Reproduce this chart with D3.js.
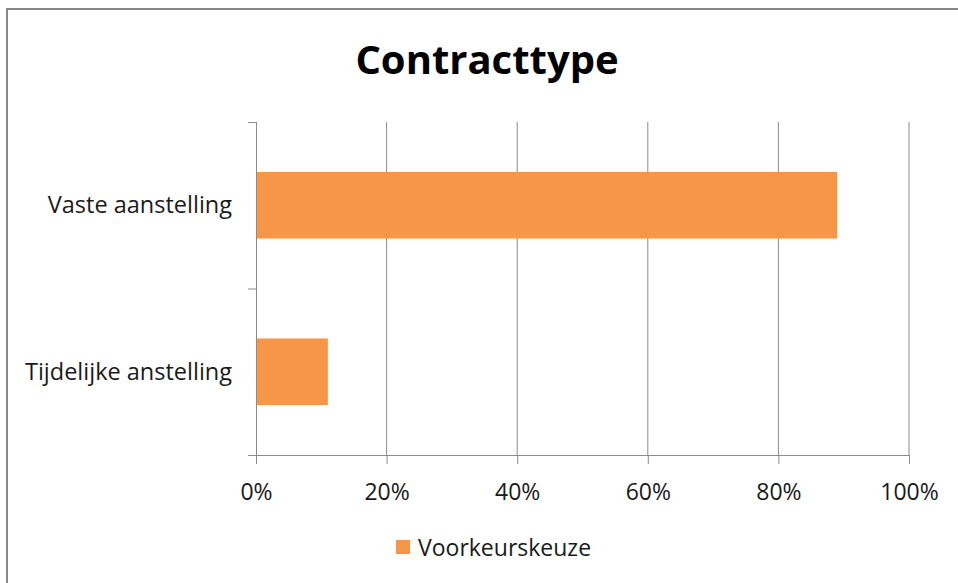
<!DOCTYPE html>
<html>
<head>
<meta charset="utf-8">
<script src="https://cdn.jsdelivr.net/npm/d3@7"></script>
<style>
  body { margin: 0; background: #fff; }
  svg { display: block; font-family: "Open Sans", Lato, sans-serif; }
</style>
</head>
<body>
<svg width="958" height="583"></svg>
<script>
var categories = ["Vaste aanstelling", "Tijdelijke anstelling"];
var values = [0.89, 0.11];
var tickValues = [0, 0.2, 0.4, 0.6, 0.8, 1.0];
var seriesName = "Voorkeurskeuze";
var barColor = "#F79646";
var gridColor = "#8c8c8c";
var textColor = "#1a1a1a";

var svg = d3.select("svg");

// chart border (extends past the picture at right and bottom)
svg.append("rect")
  .attr("x", 7).attr("y", 9)
  .attr("width", 1000).attr("height", 1000)
  .attr("fill", "none")
  .attr("stroke", "#888")
  .attr("stroke-width", 2);

var x = d3.scaleLinear().domain([0, 1]).range([256, 909]);
var y = d3.scaleBand().domain(categories).range([122, 455])
  .paddingInner(0.6).paddingOuter(0.3);

// title
svg.append("text")
  .attr("x", 487).attr("y", 74)
  .attr("text-anchor", "middle")
  .attr("font-size", 40).attr("font-weight", "bold")
  .attr("fill", "#000")
  .text("Contracttype");

// vertical gridlines
svg.selectAll("line.grid").data(tickValues.slice(1)).enter()
  .append("line")
  .attr("class", "grid")
  .attr("x1", function(d){return x(d)}).attr("x2", function(d){return x(d)})
  .attr("y1", 122).attr("y2", 455)
  .attr("stroke", gridColor).attr("stroke-width", 1);

// bars
svg.selectAll("rect.bar").data(values).enter()
  .append("rect")
  .attr("class", "bar")
  .attr("x", x(0))
  .attr("y", function(d, i){return y(categories[i])})
  .attr("width", function(d){return x(d) - x(0)})
  .attr("height", y.bandwidth())
  .attr("fill", barColor);

// x axis
var xAxis = d3.axisBottom(x)
  .tickValues(tickValues)
  .tickFormat(d3.format(".0%"))
  .tickSize(9)
  .tickPadding(0);
var gx = svg.append("g").attr("transform", "translate(0,455)").call(xAxis);
gx.select(".domain").attr("stroke", gridColor).attr("d", "M248,0.5H909");
gx.selectAll(".tick line").attr("stroke", gridColor);
gx.selectAll(".tick text")
  .attr("y", 45).attr("dy", null)
  .attr("font-size", 23).attr("fill", textColor)
  .attr("font-family", "'Open Sans', Lato, sans-serif");

// y axis with boundary ticks
var gy = svg.append("g");
gy.append("line")
  .attr("x1", 256.5).attr("x2", 256.5)
  .attr("y1", 122).attr("y2", 456)
  .attr("stroke", gridColor);
var bounds = [y.range()[0], (y.range()[0] + y.range()[1]) / 2, y.range()[1]];
gy.selectAll("line.b").data(bounds).enter()
  .append("line")
  .attr("class", "b")
  .attr("x1", 248).attr("x2", 256)
  .attr("y1", function(d){return d + 0.5}).attr("y2", function(d){return d + 0.5})
  .attr("stroke", gridColor);
gy.selectAll("text").data(categories).enter()
  .append("text")
  .attr("x", 232)
  .attr("y", function(d){return y(d) + y.bandwidth() / 2 + 8})
  .attr("text-anchor", "end")
  .attr("font-size", 23.5)
  .attr("fill", textColor)
  .text(function(d){return d});

// legend
var lg = svg.append("g");
lg.append("rect")
  .attr("x", 396).attr("y", 540)
  .attr("width", 14).attr("height", 14)
  .attr("fill", barColor);
lg.append("text")
  .attr("x", 418).attr("y", 556)
  .attr("font-size", 23)
  .attr("fill", textColor)
  .text(seriesName);
</script>
</body>
</html>
